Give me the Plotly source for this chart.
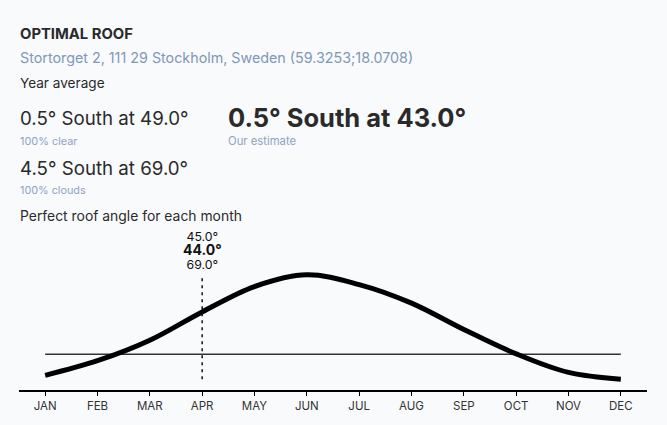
import plotly.graph_objects as go

months = ["JAN", "FEB", "MAR", "APR", "MAY", "JUN", "JUL", "AUG", "SEP", "OCT", "NOV", "DEC"]
monthly_value = [7.5, 15, 25.5, 40, 53, 59, 54, 44.5, 31, 18.5, 9, 5.5]
year_average_value = 18.3
hover_month = "APR"
hover_labels = ["45.0°", "44.0°", "69.0°"]

W, H = 667, 425
ML, MR, MT, MB = 19, 20, 226, 31
PW, PH = W - ML - MR, H - MT - MB

def px(x):
    return (x - ML) / PW

def py(y):
    return (H - MB - y) / PH

FONT = "Inter, 'Open Sans', sans-serif"
DARK = "#2a2a2a"
BLUE = "#8197b8"
BLUE2 = "#8ea3c2"

xi = list(range(len(months)))
fig = go.Figure()
fig.add_trace(go.Scatter(x=xi, y=[year_average_value] * len(months), mode="lines",
                         line=dict(color="#333333", width=1.5), hoverinfo="skip"))
fig.add_trace(go.Scatter(x=xi, y=monthly_value, mode="lines",
                         line=dict(color="#000000", width=5, shape="spline", smoothing=1),
                         hoverinfo="skip"))

hx = months.index(hover_month)
fig.add_shape(type="line", xref="x", yref="y", x0=hx, x1=hx, y0=5.5, y1=58.5,
              line=dict(color="#111111", width=1.5, dash="3px,4px"))

anns = []
def txt(t, x, y, size, color=DARK, bold=False, xanchor="left"):
    anns.append(dict(text=(f"<b>{t}</b>" if bold else t), x=px(x), y=py(y), xref="paper", yref="paper",
                     showarrow=False, xanchor=xanchor, yanchor="middle",
                     font=dict(family=FONT, size=size, color=color)))

txt("OPTIMAL ROOF", 18, 29, 14.8, bold=True)
txt("Stortorget 2, 111 29 Stockholm, Sweden (59.3253;18.0708)", 18, 54, 14.3, color=BLUE)
txt("Year average", 18, 80, 13.6)
txt("0.5° South at 49.0°", 18, 116, 18.7)
txt("100% clear", 18, 139, 10.9, color=BLUE2)
txt("0.5° South at 43.0°", 226, 115, 25.5, bold=True)
txt("Our estimate", 226, 139, 11.3, color=BLUE2)
txt("4.5° South at 69.0°", 18, 167, 18.7)
txt("100% clouds", 18, 190, 10.8, color=BLUE2)
txt("Perfect roof angle for each month", 18, 216, 13.9)

hover_text = (f'<span style="font-size:12.3px">{hover_labels[0]}</span><br>'
              f'<span style="font-size:14px"><b>{hover_labels[1]}</b></span><br>'
              f'<span style="font-size:12.3px">{hover_labels[2]}</span>')
anns.append(dict(text=hover_text, x=hx, y=py(251), xref="x", yref="paper",
                 showarrow=False, xanchor="center", yanchor="middle", align="center",
                 font=dict(family=FONT, size=10.8, color="#111111")))

fig.update_layout(
    width=W, height=H, margin=dict(l=ML, r=MR, t=MT, b=MB),
    paper_bgcolor="#f9fafc", plot_bgcolor="#f9fafc",
    showlegend=False, annotations=anns,
    xaxis=dict(range=[-0.5, 11.5], tickvals=xi, ticktext=months, showgrid=False, zeroline=False,
               showline=True, linecolor="#000000", linewidth=1.5, ticks="outside", ticklen=4,
               tickcolor="#000000", tickwidth=1, tickfont=dict(family=FONT, size=11.5, color="#333333"),
               fixedrange=True),
    yaxis=dict(range=[0, PH / 2], visible=False, fixedrange=True),
)
fig.write_html("out.html")
